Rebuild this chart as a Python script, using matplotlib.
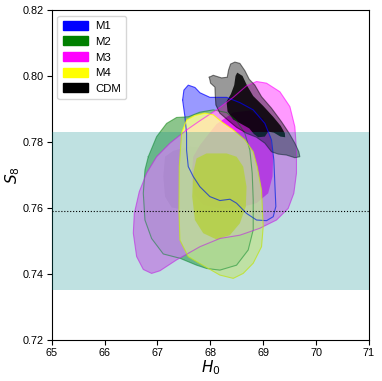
import matplotlib
matplotlib.use("Agg")
import matplotlib.pyplot as plt
from matplotlib.patches import Patch

plt.rcParams['font.family'] = ['Liberation Sans', 'DejaVu Sans']

# contour outlines (H0, S8)
m1_h0 = [67.475, 67.500, 67.582, 67.708, 67.802, 67.991, 68.306, 68.558, 68.810, 69.030, 69.156, 69.200,
         69.219, 69.238, 69.188, 69.062, 68.873, 68.684, 68.495, 68.369, 68.180, 67.991, 67.802, 67.676,
         67.582, 67.550, 67.550, 67.519]
m1_s8 = [0.7927, 0.7957, 0.7972, 0.7965, 0.7949, 0.7935, 0.7935, 0.7919, 0.7897, 0.7856, 0.7806, 0.7745,
         0.7674, 0.7604, 0.7573, 0.7561, 0.7563, 0.7583, 0.7614, 0.7626, 0.7622, 0.7634, 0.7664, 0.7695,
         0.7725, 0.7775, 0.7826, 0.7876]

m2_h0 = [66.826, 66.984, 67.173, 67.361, 67.582, 67.802, 68.054, 68.306, 68.495, 68.652, 68.747, 68.791,
         68.810, 68.810, 68.715, 68.495, 68.180, 67.928, 67.739, 67.424, 67.110, 66.889, 66.763, 66.732,
         66.763]
m2_s8 = [0.7755, 0.7816, 0.7856, 0.7874, 0.7876, 0.7890, 0.7897, 0.7889, 0.7864, 0.7826, 0.7775, 0.7705,
         0.7624, 0.7533, 0.7472, 0.7426, 0.7411, 0.7416, 0.7426, 0.7447, 0.7460, 0.7507, 0.7563, 0.7644,
         0.7715]
m2_in_h0 = [67.142, 67.298, 67.613, 67.991, 68.243, 68.369, 68.306, 68.054, 67.613, 67.267, 67.142, 67.110]
m2_in_s8 = [0.7755, 0.7773, 0.7786, 0.7780, 0.7745, 0.7684, 0.7624, 0.7595, 0.7591, 0.7601, 0.7634, 0.7695]

m3_h0 = [67.550, 67.802, 68.117, 68.432, 68.684, 68.873, 69.062, 69.314, 69.503, 69.597, 69.628, 69.628,
         69.578, 69.471, 69.251, 68.936, 68.558, 68.180, 67.802, 67.361, 67.047, 66.889, 66.732, 66.606,
         66.543, 66.562, 66.656, 66.795, 66.984, 67.236]
m3_s8 = [0.7836, 0.7864, 0.7897, 0.7935, 0.7970, 0.7983, 0.7978, 0.7952, 0.7907, 0.7846, 0.7775, 0.7705,
         0.7644, 0.7598, 0.7563, 0.7538, 0.7517, 0.7507, 0.7482, 0.7442, 0.7409, 0.7401, 0.7413, 0.7452,
         0.7523, 0.7583, 0.7649, 0.7705, 0.7755, 0.7796]
m3_in_h0 = [68.117, 68.432, 68.747, 68.999, 69.137, 69.188, 69.175, 69.093, 68.873, 68.558, 68.180, 67.865,
            67.695, 67.645, 67.676, 67.802, 67.928]
m3_in_s8 = [0.7854, 0.7889, 0.7895, 0.7871, 0.7816, 0.7755, 0.7695, 0.7644, 0.7614, 0.7601, 0.7598, 0.7608,
            0.7639, 0.7695, 0.7755, 0.7790, 0.7816]

m4_h0 = [67.456, 67.550, 67.708, 67.897, 68.054, 68.211, 68.432, 68.652, 68.810, 68.885, 68.967, 68.999,
         68.967, 68.810, 68.621, 68.432, 68.180, 67.865, 67.582, 67.424, 67.406, 67.412]
m4_s8 = [0.7826, 0.7866, 0.7880, 0.7887, 0.7882, 0.7861, 0.7836, 0.7806, 0.7770, 0.7725, 0.7654, 0.7543,
         0.7482, 0.7432, 0.7401, 0.7386, 0.7396, 0.7425, 0.7452, 0.7502, 0.7593, 0.7725]
m4_in_h0 = [67.676, 67.739, 67.928, 68.306, 68.495, 68.621, 68.684, 68.671, 68.558, 68.369, 68.117, 67.865,
            67.708, 67.657]
m4_in_s8 = [0.7705, 0.7750, 0.7765, 0.7765, 0.7755, 0.7725, 0.7664, 0.7604, 0.7553, 0.7517, 0.7504, 0.7523,
            0.7563, 0.7634]

cdm_h0 = [67.979, 68.054, 68.211, 68.319, 68.344, 68.382, 68.463, 68.558, 68.652, 68.734, 68.841, 68.967,
          69.156, 69.345, 69.490, 69.597, 69.673, 69.691, 69.597, 69.440, 69.282, 69.156, 69.030, 68.873,
          68.684, 68.495, 68.338, 68.180, 68.104, 68.092, 68.086, 68.004]
cdm_s8 = [0.7996, 0.8002, 0.7994, 0.7996, 0.8018, 0.8036, 0.8042, 0.8038, 0.8016, 0.7990, 0.7972, 0.7937,
          0.7902, 0.7861, 0.7826, 0.7796, 0.7770, 0.7755, 0.7752, 0.7760, 0.7763, 0.7770, 0.7796, 0.7814,
          0.7826, 0.7844, 0.7865, 0.7887, 0.7912, 0.7943, 0.7966, 0.7978]
cdm_in_h0 = [68.508, 68.608, 68.696, 68.810, 68.999, 69.188, 69.332, 69.408, 69.414, 69.326, 69.200, 69.093,
             69.030, 68.904, 68.822, 68.734, 68.589, 68.432, 68.325, 68.306, 68.388, 68.451, 68.476]
cdm_in_s8 = [0.8010, 0.8000, 0.7970, 0.7939, 0.7909, 0.7876, 0.7848, 0.7826, 0.7814, 0.7816, 0.7828, 0.7831,
             0.7816, 0.7814, 0.7824, 0.7841, 0.7854, 0.7868, 0.7892, 0.7922, 0.7945, 0.7972, 0.8000]

labels = ["M1", "M2", "M3", "M4", "CDM"]
colors = ["blue", "green", "magenta", "yellow", "black"]

s8_band = (0.735, 0.783)
s8_line = 0.759

fig = plt.figure(figsize=(3.82, 3.81), dpi=100)
ax = fig.add_axes([0.1353, 0.1084, 0.8308, 0.8654])


def closed(a):
    return a + a[:1]


# filled regions, later ones cover earlier ones
ax.fill(m1_h0, m1_s8, color="blue", alpha=0.4, lw=0, zorder=1)
ax.fill(m2_h0, m2_s8, color="#80bf80", alpha=0.9, lw=0, zorder=1)
ax.fill(m2_in_h0, m2_in_s8, color="#307030", alpha=0.9, lw=0, zorder=1)
ax.fill(m3_h0, m3_s8, color="#ff8cff", alpha=0.88, lw=0, zorder=1)
ax.fill(m3_in_h0, m3_in_s8, color="#f01aff", alpha=0.9, lw=0, zorder=1)
ax.fill(m4_h0, m4_s8, color="#ffff99", alpha=0.8, lw=0, zorder=1)
ax.fill(m4_in_h0, m4_in_s8, color="#f2e82a", alpha=0.85, lw=0, zorder=1)
ax.fill(cdm_h0, cdm_s8, color="black", alpha=0.4, lw=0, zorder=1)
ax.fill(cdm_in_h0, cdm_in_s8, color="black", alpha=0.85, lw=0, zorder=1)

# outlines
ax.plot(closed(m1_h0), closed(m1_s8), color="blue", lw=0.8, alpha=0.7, zorder=2)
ax.plot(closed(m2_h0), closed(m2_s8), color="green", lw=0.8, alpha=0.5, zorder=2)
ax.plot(closed(m3_h0), closed(m3_s8), color="magenta", lw=0.8, alpha=0.6, zorder=2)
ax.plot(closed(m4_h0), closed(m4_s8), color="yellow", lw=0.8, alpha=0.8, zorder=2)
ax.plot(closed(cdm_h0), closed(cdm_s8), color="black", lw=0.8, alpha=0.5, zorder=2)

ax.axhspan(s8_band[0], s8_band[1], color="darkcyan", alpha=0.25, lw=0, zorder=3)
ax.axhline(s8_line, color="black", ls=":", lw=0.8, zorder=4)

ax.set_xlim(65, 71)
ax.set_ylim(0.72, 0.82)
ax.set_xticks(range(65, 72))
ax.set_yticks([0.72, 0.74, 0.76, 0.78, 0.80, 0.82])
ax.tick_params(labelsize=7.8, pad=2.5)
ax.set_xlabel("$H_0$", fontsize=11, labelpad=0)
ax.set_ylabel("$S_8$", fontsize=11, labelpad=0)

handles = [Patch(facecolor=c, edgecolor=c, label=l) for c, l in zip(colors, labels)]
ax.legend(handles=handles, loc="upper left", fontsize=8.2, handlelength=2.2, handleheight=0.85,
          handletextpad=0.65, labelspacing=0.45, borderpad=0.45)

fig.savefig("out.png", dpi=100)
